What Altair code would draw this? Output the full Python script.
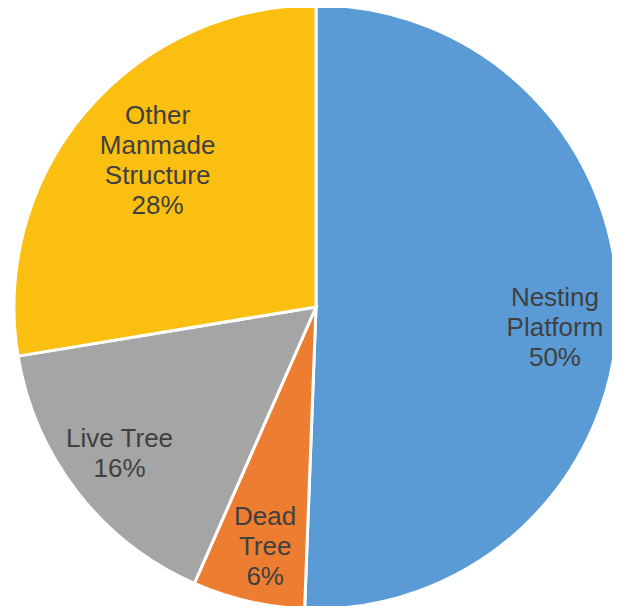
import altair as alt
import pandas as pd

categories = ["Nesting Platform", "Dead Tree", "Live Tree", "Other Manmade Structure"]
values = [50.6, 6.0, 15.8, 27.6]
label_lines = [["Nesting", "Platform", "50%"], ["Dead", "Tree", "6%"],
               ["Live Tree", "16%"], ["Other", "Manmade", "Structure", "28%"]]
colors = ["#5B9BD5", "#ED7D31", "#A5A5A5", "#FBBF12"]

df = pd.DataFrame({
    "category": categories,
    "value": values,
    "order": list(range(len(categories))),
    "label": ["\n".join(l) for l in label_lines],
})

cx, cy = 308, 299
theta_scale = alt.Scale(domain=[0, sum(values)])

arcs = alt.Chart(df).mark_arc(radius=302, stroke="white", strokeWidth=3).encode(
    theta=alt.Theta("value:Q", stack=True, scale=theta_scale),
    order=alt.Order("order:Q"),
    color=alt.Color("category:N", scale=alt.Scale(domain=categories, range=colors), legend=None),
    x=alt.value(cx), y=alt.value(cy),
)

lab_base = alt.Chart(df).transform_window(
    cum="sum(value)", sort=[alt.SortField("order")]
).transform_calculate(
    mid="datum.cum - datum.value / 2"
)

text_style = dict(font="Liberation Sans", fontSize=26, color="#404040",
                  lineBreak="\n", lineHeight=30, align="center", baseline="middle")

# per-label placement (radius, dx, dy) tuned to the reference layout
placement = {
    "Nesting Platform": (240, -1, -14),
    "Dead Tree": (240, 3, -24),
    "Live Tree": (241, -6, -16),
    "Other Manmade Structure": (213, 4, -53),
}


def label_layer(cat):
    r, dx, dy = placement[cat]
    return lab_base.transform_filter(alt.datum.category == cat).mark_text(
        radius=r, dx=dx, dy=dy, **text_style
    ).encode(
        theta=alt.Theta("mid:Q", stack=None, scale=theta_scale),
        text="label:N", x=alt.value(cx), y=alt.value(cy),
    )


chart = alt.layer(arcs, *[label_layer(c) for c in categories]).properties(
    width=604, height=598, autosize="none", padding=0,
).configure_view(stroke=None)

chart.save("out.html", embed_options={"renderer": "svg", "actions": False})
